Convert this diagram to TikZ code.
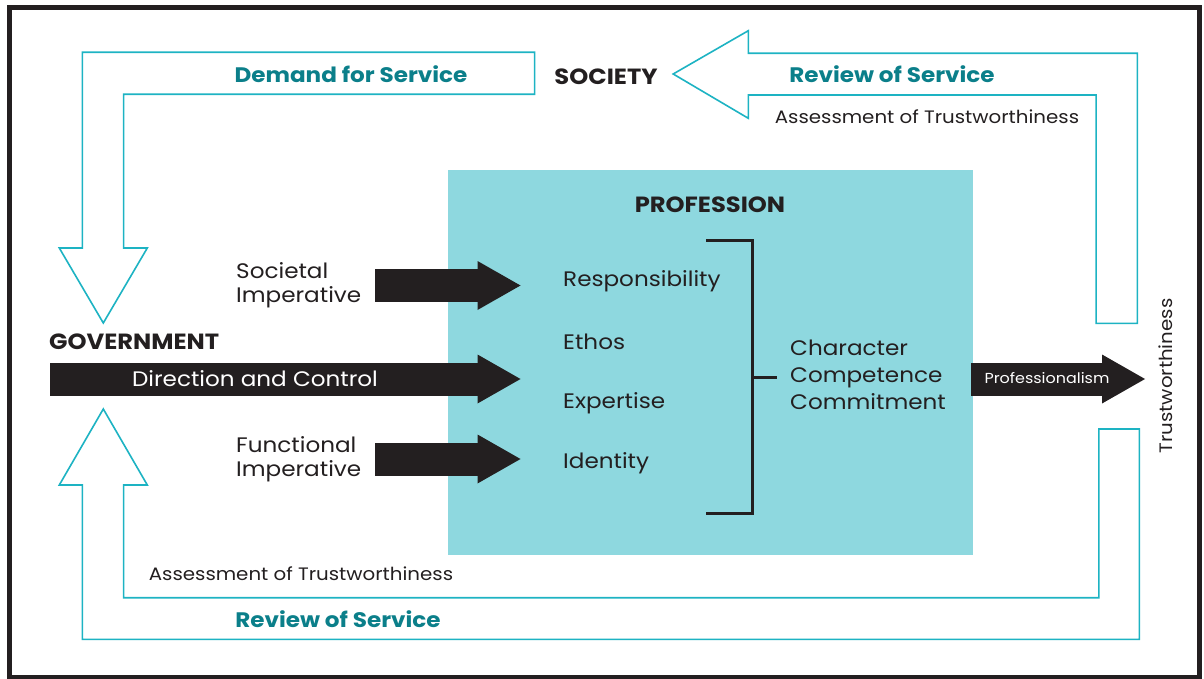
\documentclass[tikz,border=0pt]{standalone}
\usepackage{fontspec}
\setmainfont{Poppins}[FakeStretch=1.1]
\usepackage{tikz}
\usetikzlibrary{positioning}
\usetikzlibrary{arrows.meta,calc}

\definecolor{boxfill}{HTML}{8ED8DF}
\definecolor{flowline}{HTML}{1DB3C3}
\definecolor{tealtext}{HTML}{0B7F8A}
\definecolor{ink}{HTML}{231F20}

\tikzset{
  flow/.style={draw=flowline, line width=1.6pt, fill=white, line join=miter},
  fat/.style={draw=ink, line width=33pt,
    -{Triangle[length=43pt, width=49pt, line width=0pt]}},
  plain/.style={text=ink, font=\fontsize{21}{24}\selectfont, inner sep=0pt},
  small/.style={text=ink, font=\fontsize{18}{22}\selectfont, inner sep=0pt},
  heading/.style={text=ink, font=\bfseries\fontsize{22}{24}\selectfont, inner sep=0pt},
  teal/.style={text=tealtext, font=\bfseries\fontsize{21}{24}\selectfont, inner sep=0pt},
}

\begin{document}
\begin{tikzpicture}[x=1pt, y=-1pt]
    \useasboundingbox (0,0) rectangle (1204,679);
    % Frame
    \draw[ink, line width=5pt] (9.5,8) rectangle (1199.5,677);

    % Profession box
    \fill[boxfill] (448,170) rectangle (973,555);

    % Big open arrows
    \draw[flow] (534.6,52.3) -- (82.3,52.3) -- (82.3,248) -- (59.3,248)
      -- (103.3,323) -- (147.3,248) -- (123.6,248) -- (123.6,94.3)
      -- (534.6,94.3) -- cycle;
    \draw[flow] (673.2,74) -- (748.3,30.7) -- (748.3,53.3) -- (1137.4,53.3)
      -- (1137.4,323.3) -- (1096.1,323.3) -- (1096.1,95) -- (748.3,95)
      -- (748.3,118.3) -- cycle;
    \draw[flow] (103.3,409) -- (147.3,485) -- (123.6,485) -- (123.6,597.7)
      -- (1098.8,597.7) -- (1098.8,429) -- (1139.3,429) -- (1139.3,639.3)
      -- (82.3,639.3) -- (82.3,485) -- (59.3,485) -- cycle;

    % Labels
    \node[teal] (demand) at (351,74) {Demand for Service};
    \node[heading] (society) at (606,77) {SOCIETY};
    \node[teal] (reviewtop) at (892,74) {Review of Service};
    \node[small] (assesstop) at (927,117) {Assessment of Trustworthiness};
    \node[heading] (profession) at (710,205) {PROFESSION};
    \node[heading, anchor=west] (government) at (49,342) {GOVERNMENT};
    \node[small] (assessbot) at (301,574) {Assessment of Trustworthiness};
    \node[teal] (reviewbot) at (338,619) {Review of Service};

    % Profession items
    \node[plain, anchor=west] (resp) at (563,281) {Responsibility};
    \node[plain, anchor=west] (ethos) at (563,342) {Ethos};
    \node[plain, anchor=west] (expert) at (563,403) {Expertise};
    \node[plain, anchor=west] (ident) at (563,463) {Identity};
    \node[plain, anchor=west, align=left, font=\fontsize{21}{27}\selectfont]
      (traits) at (790,375) {Character\\Competence\\Commitment};

    % Imperatives
    \node[plain, anchor=west, align=left] (societal) at (236,285) {Societal\\Imperative};
    \node[plain, anchor=west, align=left] (functional) at (236,459) {Functional\\Imperative};

    % Black arrows
    \coordinate (dir-start) at (50,379);
    \coordinate (dir-tip) at (520.5,379);
    \coordinate (soc-start) at (375,285.5);
    \coordinate (soc-tip) at (520.5,285.5);
    \coordinate (fun-start) at (375,459);
    \coordinate (fun-tip) at (520.5,459);
    \coordinate (prof-start) at (971,379);
    \coordinate (prof-tip) at (1145,379);
    \draw[fat] (dir-start) -- (dir-tip);
    \draw[fat] (soc-start) -- (soc-tip);
    \draw[fat] (fun-start) -- (fun-tip);
    \draw[fat] (prof-start) -- (prof-tip);
    \node[plain, text=white] (direction) at (255,379) {Direction and Control};
    \node[text=white, font=\fontsize{14.5}{16}\selectfont, inner sep=0pt]
      (profism) at (1047,378) {Professionalism};

    % Bracket
    \draw[ink, line width=3pt] (706,240) -| (752,513) -- (706,513);
    \draw[ink, line width=3pt] (752,377) -- (777,377);

    \node[small, rotate=90] (trust) at (1166,376) {Trustworthiness};
\end{tikzpicture}
\end{document}
